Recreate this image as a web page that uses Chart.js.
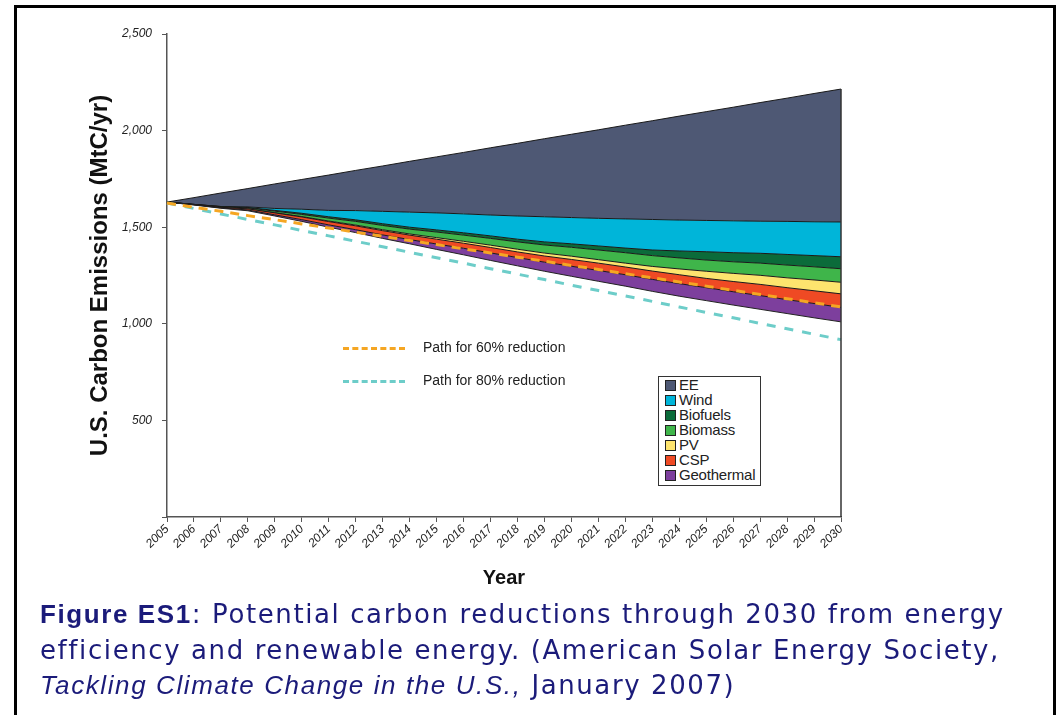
<!DOCTYPE html>
<html>
<head>
<meta charset="utf-8">
<script src="https://cdn.jsdelivr.net/npm/chart.js@4.4.1/dist/chart.umd.min.js"></script>
<style>
  html, body { margin: 0; padding: 0; background: #fff; }
  #page { position: relative; width: 1057px; height: 715px; overflow: hidden; }
  #frame { position: absolute; left: 14px; top: 5px; width: 1036px; height: 730px; border: 3px solid #000; }
  #chartBox { position: absolute; left: 0; top: 0; width: 1057px; height: 600px; }
  .pathKey { position: absolute; font: 14px "Liberation Sans", Arial, sans-serif; color: #222; }
  .pathKey span.dash { position: absolute; left: 0; top: 8px; width: 62px; height: 0; border-top: 3px dashed; }
  .pathKey span.txt { position: absolute; left: 80px; top: 0; white-space: nowrap; }
  #key { position: absolute; left: 658px; top: 376px; width: 101px; height: 108px; border: 1.5px solid #333; background: #fff;
         font: 15px "Liberation Sans", Arial, sans-serif; color: #222; }
  #key div { height: 15px; line-height: 15px; white-space: nowrap; letter-spacing: -0.2px; }
  #key i { display: inline-block; width: 9px; height: 9px; border: 1px solid #222; margin: 0 3px 0 6px; vertical-align: -1px; }
  #caption { position: absolute; left: 40px; top: 597px; font: 26px "DejaVu Sans", Verdana, sans-serif; color: #1b1b7a; line-height: 35.5px; white-space: nowrap; }
  #caption b { font-family: "Liberation Sans", Arial, sans-serif; }
  #caption i { font-family: "Liberation Sans", Arial, sans-serif; }
</style>
</head>
<body>
<div id="page">
  <div id="frame"></div>
  <div id="chartBox"><canvas id="emissions"></canvas></div>
  <div class="pathKey" style="left:343px;top:339px;width:260px;height:18px;"><span class="dash" style="border-color:#f5a623"></span><span class="txt">Path for 60% reduction</span></div>
  <div class="pathKey" style="left:343px;top:372px;width:260px;height:18px;"><span class="dash" style="border-color:#6dcdc9"></span><span class="txt">Path for 80% reduction</span></div>
  <div id="key"></div>
  <div id="caption">
    <div id="cap1"><b>Figure ES1</b>: Potential carbon reductions through 2030 from energy</div>
    <div>efficiency and renewable energy. (American Solar Energy Society,</div>
    <div><i>Tackling Climate Change in the U.S.,</i> January 2007)</div>
  </div>
</div>
<script>
var years = ['2005','2006','2007','2008','2009','2010','2011','2012','2013','2014','2015','2016','2017','2018',
             '2019','2020','2021','2022','2023','2024','2025','2026','2027','2028','2029','2030'];

// emissions left after all reductions (bottom of the stack)
var remaining  = [1630,1615,1598,1585,1558,1530,1500,1472,1442,1414,1385,1357,1328,1300,1272,1246,1220,1195,1168,1143,1120,1097,1075,1053,1031,1010];
// reductions per source, MtC/yr
var geothermal = [0,1,2,4,6,9,12,15,18,22,28,34,39,43,47,52,56,59,62,65,67,69,71,72,74,75];
var csp        = [0,1,3,6,10,14,17,20,22,23,25,26,28,29,32,35,38,40,43,46,48,53,58,62,66,70];
var pv         = [0,0,0,0,1,2,3,4,5,6,8,10,12,14,15,17,18,20,24,30,37,42,47,51,56,60];
var biomass    = [0,1,3,5,8,11,15,19,22,25,29,32,35,38,42,46,50,54,56,57,58,60,63,66,68,70];
var biofuels   = [0,0,1,2,4,6,7,8,9,10,11,12,13,14,16,18,21,24,29,36,43,47,51,55,58,62];
var wind       = [0,0,0,3,10,21,33,48,64,78,88,98,108,120,130,136,143,151,158,160,162,165,166,171,175,180];
var ee         = [0,35,70,95,127,154,183,208,235,263,290,318,348,376,404,431,458,485,511,538,563,588,614,638,664,688];

var path60 = [1625,1603,1582,1560,1539,1517,1496,1474,1453,1431,1410,1388,1367,1345,1324,1302,1281,1259,1238,1216,1195,1173,1152,1130,1109,1087];
var path80 = [1625,1597,1568,1540,1512,1483,1455,1427,1399,1370,1342,1314,1285,1257,1229,1200,1172,1144,1116,1087,1059,1031,1002,974,946,918];

var yTicks = [500, 1000, 1500, 2000, 2500];

var bands = [
    { label: 'Geothermal', data: geothermal, color: '#7d3f9d' },
    { label: 'CSP',        data: csp,        color: '#ef4a24' },
    { label: 'PV',         data: pv,         color: '#fde46e' },
    { label: 'Biomass',    data: biomass,    color: '#3fb54a' },
    { label: 'Biofuels',   data: biofuels,   color: '#0b6b3a' },
    { label: 'Wind',       data: wind,       color: '#00b5d9' },
    { label: 'EE',         data: ee,         color: '#4e5874' }
];

var datasets = [{
    label: 'remaining', data: remaining, fill: false, borderColor: '#222', borderWidth: 1,
    pointRadius: 0, tension: 0, stack: 'mix'
}];
bands.forEach(function(b) {
    datasets.push({
        label: b.label, data: b.data, fill: '-1', backgroundColor: b.color, borderColor: '#1a1a1a',
        borderWidth: 1, pointRadius: 0, tension: 0, stack: 'mix'
    });
});
datasets.push({
    label: 'Path for 60% reduction', data: path60, fill: false, borderColor: '#f5a623', borderWidth: 3,
    borderDash: [9, 7], pointRadius: 0, tension: 0, stack: 'p60', order: -1
});
datasets.push({
    label: 'Path for 80% reduction', data: path80, fill: false, borderColor: '#6dcdc9', borderWidth: 3,
    borderDash: [9, 9], pointRadius: 0, tension: 0, stack: 'p80', order: -1
});

// legend box, top to bottom as in the figure
var key = document.getElementById('key');
bands.slice().reverse().forEach(function(b) {
    var row = document.createElement('div');
    row.innerHTML = '<i style="background:' + b.color + '"></i>' + b.label;
    key.appendChild(row);
});

// caption: spread the letters so the first line runs across the frame
var cap = document.getElementById('caption');
var cap1 = document.getElementById('cap1');
var natural = cap1.getBoundingClientRect().width;
var chars = cap1.textContent.length;
cap.style.letterSpacing = Math.max(0, (965 - natural) / chars).toFixed(2) + 'px';

// closing edge of the area at the last year
var endEdge = {
    id: 'endEdge',
    afterDatasetsDraw: function(chart) {
        var ctx = chart.ctx, xs = chart.scales.x, ys = chart.scales.y;
        var last = years.length - 1;
        var top = remaining[last];
        bands.forEach(function(b) { top += b.data[last]; });
        ctx.save();
        ctx.strokeStyle = '#333';
        ctx.lineWidth = 1.5;
        ctx.beginPath();
        ctx.moveTo(xs.getPixelForValue(last), ys.getPixelForValue(top));
        ctx.lineTo(xs.getPixelForValue(last), ys.getPixelForValue(0));
        ctx.stroke();
        ctx.restore();
    }
};

new Chart(document.getElementById('emissions'), {
    type: 'line',
    data: { labels: years, datasets: datasets },
    plugins: [endEdge],
    options: {
        responsive: true,
        maintainAspectRatio: false,
        animation: false,
        layout: { padding: { left: 86, right: 216, top: 34, bottom: 10 } },
        plugins: { legend: { display: false }, tooltip: { enabled: false } },
        scales: {
            x: {
                offset: false,
                afterFit: function(s) { s.height = 73; },
                grid: { drawOnChartArea: false, tickLength: 5, color: '#555' },
                border: { color: '#555', width: 1.5 },
                ticks: {
                    autoSkip: false, maxRotation: 45, minRotation: 45, padding: 0, color: '#222',
                    font: { family: 'Liberation Sans', size: 12, style: 'italic' }
                },
                title: {
                    display: true, text: 'Year', color: '#111', padding: { top: 0, bottom: 0 },
                    font: { family: 'Liberation Sans', size: 20, weight: 'bold' }
                }
            },
            y: {
                stacked: true,
                min: 0, max: 2500,
                afterFit: function(s) { s.width = 81; },
                afterBuildTicks: function(s) {
                    s.ticks = [0].concat(yTicks).map(function(v) { return { value: v }; });
                },
                grid: { drawOnChartArea: false, tickLength: 5, color: '#555' },
                border: { color: '#555', width: 1.5 },
                ticks: {
                    padding: 10, color: '#222',
                    font: { family: 'Liberation Sans', size: 12, style: 'italic' },
                    callback: function(v) { return v === 0 ? '' : v.toLocaleString('en-US'); }
                },
                title: {
                    display: true, text: 'U.S. Carbon Emissions (MtC/yr)', color: '#111', padding: { top: 0, bottom: 0 },
                    font: { family: 'Liberation Sans', size: 24, weight: 'bold' }
                }
            }
        }
    }
});
</script>
</body>
</html>
